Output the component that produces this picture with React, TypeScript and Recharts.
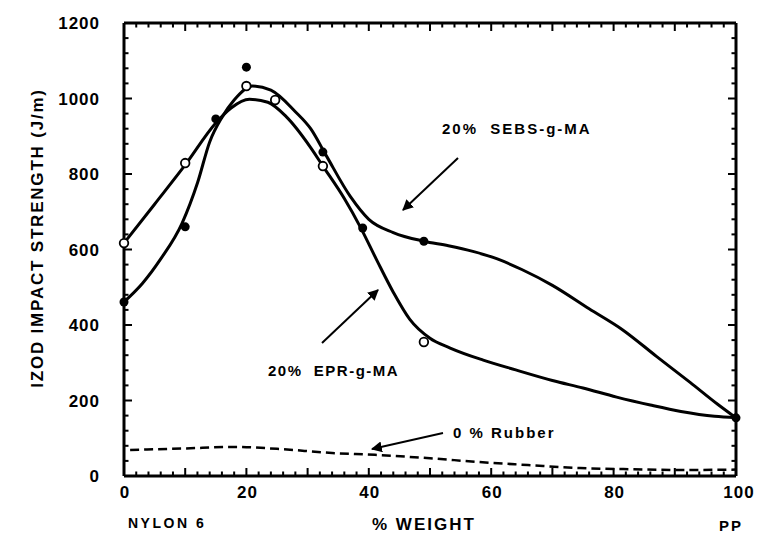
import React from "react";
import { ComposedChart, Line, Scatter, XAxis, YAxis } from "recharts";

const xLabels = [0, 20, 40, 60, 80, 100];
const yLabels = [0, 200, 400, 600, 800, 1000, 1200];

// fitted curves (% weight -> J/m)
const sebsPct = [0, 3, 6, 9.5, 12, 14, 16, 18, 21, 24, 28, 30.5, 33, 37, 40, 44, 49, 53, 57, 61, 65, 70, 76, 81.5, 87, 92.5, 97, 100];
const sebsVal = [461, 510, 575, 670, 776, 885, 950, 996, 1033, 1022, 965, 920, 850, 740, 680, 645, 622, 610, 595, 575, 547, 505, 443, 387, 317, 248, 190, 154];

const eprPct = [0, 5, 10, 15, 17.5, 20.5, 23.5, 26.5, 30.5, 32.5, 36, 38.6, 41.3, 44, 46.7, 50, 53.3, 58.7, 64, 70, 75, 80.5, 86, 91, 96.5, 100];
const eprVal = [617, 720, 824, 935, 975, 998, 990, 952, 870, 821, 735, 660, 572, 487, 415, 365, 339, 307, 281, 253, 233, 209, 188, 171, 158, 154];

const rubberPct = [1, 10, 18, 25, 34, 41, 50, 58, 66, 74.5, 83, 91, 100];
const rubberVal = [69, 73, 77, 72, 61, 56, 47, 37, 29, 21, 18, 16, 17];

// measured points
const filledPct = [0, 10, 15, 20, 32.5, 39, 49, 100];
const filledVal = [461, 660, 946, 1083, 858, 657, 622, 154];
const openPct = [0, 10, 20, 24.7, 32.5, 49];
const openVal = [617, 829, 1033, 996, 821, 355];

const zip = (xs: number[], ys: number[]) => xs.map((pct, i) => ({ pct, izod: ys[i] }));

const sebsCurve = zip(sebsPct, sebsVal);
const eprCurve = zip(eprPct, eprVal);
const rubberCurve = zip(rubberPct, rubberVal);
const filledPoints = zip(filledPct, filledVal);
const openPoints = zip(openPct, openVal);

// minor ticks every 2 % and every 40 J/m, drawn inward on all four sides
const xTicks = Array.from({ length: 51 }, (_, i) => i * 2);
const yTicks = Array.from({ length: 31 }, (_, i) => i * 40);

const W = 758, H = 535;
const L = 124, R = 736, T = 23, B = 476;

const font = "'Liberation Sans', Arial, sans-serif";
const INK = "#000";

function BottomTick({ x, y, payload }: any) {
  const v = payload.value;
  const len = v % 10 === 0 ? 8 : 4.5;
  return (
    <g>
      <rect x={x - 1} y={y - len} width={2} height={len} fill={INK} />
      {xLabels.includes(v) && (
        <text x={x + (v === 100 ? 3 : 1)} y={y + 22} textAnchor="middle" fontFamily={font} fontWeight={700} fontSize={17} letterSpacing={1} fill="#000">
          {v}
        </text>
      )}
    </g>
  );
}

function TopTick({ x, y, payload }: any) {
  const len = payload.value % 10 === 0 ? 8 : 4.5;
  return <rect x={x - 1} y={y} width={2} height={len} fill={INK} />;
}

function LeftTick({ x, y, payload }: any) {
  const v = payload.value;
  const len = v % 200 === 0 ? 8 : 4.5;
  return (
    <g>
      <rect x={x} y={y - 1} width={len} height={2} fill={INK} />
      {yLabels.includes(v) && (
        <text x={x - 24} y={y + 6} textAnchor="end" fontFamily={font} fontWeight={700} fontSize={17} letterSpacing={1} fill="#000">
          {v}
        </text>
      )}
    </g>
  );
}

function RightTick({ x, y, payload }: any) {
  const len = payload.value % 200 === 0 ? 8 : 4.5;
  return <rect x={x - len} y={y - 1} width={len} height={2} fill={INK} />;
}

const filledDot = (p: any) => <circle cx={p.cx} cy={p.cy} r={4.5} fill="#000" />;
const openDot = (p: any) => <circle cx={p.cx} cy={p.cy} r={4.3} fill="#fff" stroke="#000" strokeWidth={1.8} />;

const textStyle = { fontFamily: font, fontWeight: 700, fill: "#000" } as const;

export default function App() {
  const axisLine = { stroke: INK, strokeWidth: 3 };
  return (
    <div style={{ position: "absolute", left: 0, top: 0, width: W, height: H, background: "#fff" }}>
      <ComposedChart width={W} height={H} margin={{ top: 0, right: 0, bottom: 0, left: 0 }}>
        <XAxis dataKey="pct" type="number" domain={[0, 100]} ticks={xTicks} interval={0} height={H - B}
          tickSize={0} tickMargin={0} tickLine={false} axisLine={axisLine} tick={<BottomTick />} />
        <XAxis xAxisId="top" orientation="top" dataKey="pct" type="number" domain={[0, 100]} ticks={xTicks} interval={0} height={T}
          tickSize={0} tickMargin={0} tickLine={false} axisLine={axisLine} tick={<TopTick />} />
        <YAxis dataKey="izod" type="number" domain={[0, 1200]} ticks={yTicks} interval={0} width={L}
          tickSize={0} tickMargin={0} tickLine={false} axisLine={axisLine} tick={<LeftTick />} />
        <YAxis yAxisId="right" orientation="right" dataKey="izod" type="number" domain={[0, 1200]} ticks={yTicks} interval={0} width={W - R}
          tickSize={0} tickMargin={0} tickLine={false} axisLine={axisLine} tick={<RightTick />} />
        {/* invisible carrier so the top / right frame axes get a scale */}
        <Line data={sebsCurve} dataKey="izod" xAxisId="top" yAxisId="right" stroke="none" dot={false} legendType="none" isAnimationActive={false} />
        <Line data={rubberCurve} dataKey="izod" type="monotone" stroke="#000" strokeWidth={2.5} strokeDasharray="9 5" dot={false} isAnimationActive={false} />
        <Line data={sebsCurve} dataKey="izod" type="monotone" stroke="#000" strokeWidth={3} dot={false} isAnimationActive={false} />
        <Line data={eprCurve} dataKey="izod" type="monotone" stroke="#000" strokeWidth={3} dot={false} isAnimationActive={false} />
        <Scatter data={filledPoints} dataKey="izod" shape={filledDot} isAnimationActive={false} />
        <Scatter data={openPoints} dataKey="izod" shape={openDot} isAnimationActive={false} />
      </ComposedChart>
      <svg width={W} height={H} style={{ position: "absolute", left: 0, top: 0, pointerEvents: "none" }}>
        <defs>
          <marker id="head" viewBox="0 0 10 10" refX="9" refY="5" markerWidth="11" markerHeight="11" markerUnits="userSpaceOnUse" orient="auto">
            <path d="M0,0 L10,5 L0,10 z" fill="#000" />
          </marker>
        </defs>
        <text x={37} y={238} transform="rotate(-90 37 238)" textAnchor="middle" dominantBaseline="central" fontSize={17} letterSpacing={1.8} {...textStyle}>
          IZOD IMPACT STRENGTH (J/m)
        </text>
        <text x={128} y={528} fontSize={14} letterSpacing={2.5} {...textStyle}>NYLON 6</text>
        <text x={372} y={530} fontSize={17} letterSpacing={2} {...textStyle}>% WEIGHT</text>
        <text x={719} y={531} fontSize={15} letterSpacing={2} {...textStyle}>PP</text>

        <text x={442} y={134} fontSize={15} letterSpacing={2} {...textStyle} xmlSpace="preserve">20%  SEBS-g-MA</text>
        <line x1={458} y1={158} x2={403} y2={210} stroke="#000" strokeWidth={2} markerEnd="url(#head)" />

        <text x={268} y={376} fontSize={15} letterSpacing={1.5} {...textStyle} xmlSpace="preserve">20%  EPR-g-MA</text>
        <line x1={322} y1={343} x2={378} y2={290} stroke="#000" strokeWidth={2} markerEnd="url(#head)" />

        <text x={453} y={438} fontSize={15} letterSpacing={2} {...textStyle}>0 % Rubber</text>
        <line x1={443} y1={433} x2={372} y2={449} stroke="#000" strokeWidth={1.8} markerEnd="url(#head)" />
      </svg>
    </div>
  );
}
